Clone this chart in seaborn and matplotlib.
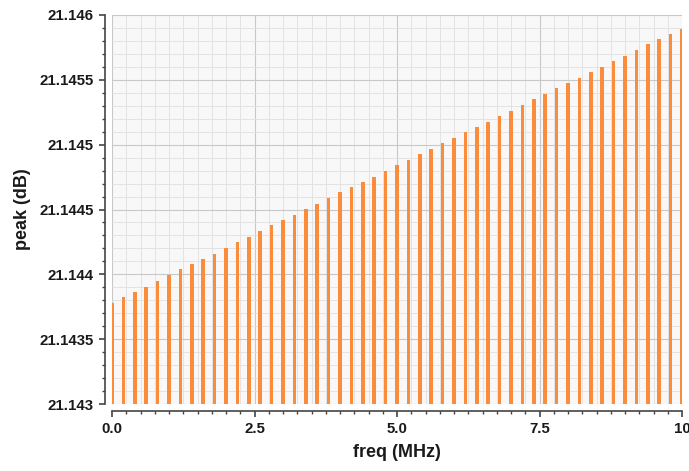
import numpy as np
import pandas as pd
import matplotlib
matplotlib.use('Agg')
import matplotlib.pyplot as plt
from matplotlib.ticker import FixedLocator, MultipleLocator
import seaborn as sns

# bar positions (MHz), one every 0.2 MHz
freq = np.round(np.linspace(0.0, 10.0, 51), 1)

# peak values (dB)
peak = [21.143781, 21.143823, 21.143864, 21.143905, 21.143951,
        21.143997, 21.144039, 21.144077, 21.144116, 21.144157,
        21.144201, 21.144249, 21.144290, 21.144337, 21.144378,
        21.144419, 21.144460, 21.144501, 21.144545, 21.144586,
        21.144632, 21.144673, 21.144714, 21.144753, 21.144798,
        21.144841, 21.144884, 21.144926, 21.144969, 21.145011,
        21.145054, 21.145095, 21.145134, 21.145177, 21.145221,
        21.145262, 21.145306, 21.145350, 21.145393, 21.145437,
        21.145476, 21.145516, 21.145560, 21.145601, 21.145645,
        21.145686, 21.145730, 21.145774, 21.145815, 21.145853,
        21.145892]

xticks = [0.0, 2.5, 5.0, 7.5, 10.0]
xtick_labels = ['0.0', '2.5', '5.0', '7.5', '10']
yticks = [21.143, 21.1435, 21.144, 21.1445, 21.145, 21.1455, 21.146]
ytick_labels = ['21.143', '21.1435', '21.144', '21.1445', '21.145', '21.1455', '21.146']

df = pd.DataFrame({'freq': freq, 'peak': peak})

sns.set_style('white')
plt.rcParams['font.family'] = ['Liberation Sans', 'DejaVu Sans']
plt.rcParams['font.weight'] = 'bold'

fig = plt.figure(figsize=(6.89, 4.71), dpi=100)
ax = fig.add_axes([112 / 689, 1 - 404 / 471, 570 / 689, 389 / 471])
ax.set_facecolor('#f8f8f8')

sns.barplot(data=df, x='freq', y='peak', native_scale=True, width=0.3,
            color='#fb8c3c', saturation=1, errorbar=None, linewidth=0, ax=ax)

ax.set_xlim(0, 10)
ax.set_ylim(21.143, 21.146)

ax.xaxis.set_major_locator(FixedLocator(xticks))
ax.set_xticklabels(xtick_labels)
ax.xaxis.set_minor_locator(MultipleLocator(0.25))
ax.yaxis.set_major_locator(FixedLocator(yticks))
ax.set_yticklabels(ytick_labels)
ax.yaxis.set_minor_locator(MultipleLocator(0.0001))

ax.set_axisbelow(True)
ax.grid(which='major', color='#c8c8c8', linewidth=0.8)
ax.grid(which='minor', color='#e0e0e0', linewidth=0.6)

sns.despine(ax=ax, offset=5)
for side in ['left', 'bottom']:
    ax.spines[side].set_visible(True)
    ax.spines[side].set_color('#444444')
    ax.spines[side].set_linewidth(1.2)
    ax.spines[side].set_zorder(5)

ax.tick_params(which='both', bottom=True, left=True, direction='out')
ax.tick_params(which='major', length=4, width=1.2, color='#444444',
               labelsize=10.8, pad=4, labelcolor='#1a1a1a')
ax.tick_params(which='minor', length=2.5, width=1.0, color='#444444')
for lab in ax.get_xticklabels() + ax.get_yticklabels():
    lab.set_fontweight('bold')

ax.set_xlabel('freq (MHz)', fontsize=13, fontweight='bold', labelpad=6, color='#1a1a1a')
ax.set_ylabel('peak (dB)', fontsize=13, fontweight='bold', labelpad=6, color='#1a1a1a')

fig.savefig('out.png', dpi=100)
